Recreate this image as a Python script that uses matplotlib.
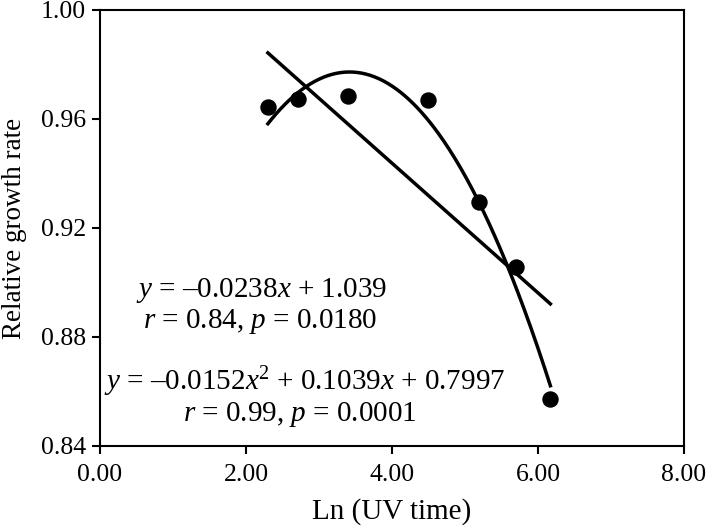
import numpy as np
import matplotlib
matplotlib.use("Agg")
import matplotlib.pyplot as plt

plt.rcParams['font.family'] = ['Liberation Serif', 'DejaVu Serif']
plt.rcParams['mathtext.fontset'] = 'custom'
plt.rcParams['mathtext.rm'] = 'Liberation Serif'
plt.rcParams['mathtext.it'] = 'Liberation Serif:italic'

# Data
ln_uv_time = [2.30, 2.71, 3.40, 4.50, 5.19, 5.70, 6.17]
growth_rate = [0.9643, 0.9673, 0.9683, 0.9670, 0.9294, 0.9058, 0.8571]

# Regression coefficients as printed on the chart
linear_coef = [-0.0238, 1.039]
quad_coef = [-0.0152, 0.1039, 0.7997]

x_ticks = [0.0, 2.0, 4.0, 6.0, 8.0]
y_ticks = [0.84, 0.88, 0.92, 0.96, 1.00]

fig = plt.figure(figsize=(7.09, 5.29), dpi=100)
ax = fig.add_axes([0.1410, 0.1569, 0.8237, 0.8242])

xs = np.linspace(min(ln_uv_time), max(ln_uv_time), 200)
ax.plot(xs, np.polyval(linear_coef, xs), color='black', lw=2.5)
ax.plot(xs, np.polyval(quad_coef, xs), color='black', lw=2.5)
ax.scatter(ln_uv_time, growth_rate, s=117, color='black', zorder=3)

ax.set_xlim(0, 8)
ax.set_ylim(0.84, 1.00)
ax.set_xticks(x_ticks)
ax.set_xticklabels([f"{v:.2f}" for v in x_ticks])
ax.set_yticks(y_ticks)
ax.set_yticklabels([f"{v:.2f}" for v in y_ticks])
ax.tick_params(direction='out', length=6, width=1.5, labelsize=18.5)
ax.tick_params(axis='x', pad=7)
ax.tick_params(axis='y', pad=4)
for s in ax.spines.values():
    s.set_linewidth(1.5)

ax.set_xlabel("Ln (UV time)", fontsize=21, labelpad=9)
ax.set_ylabel("Relative growth rate", fontsize=19.5, labelpad=10)

fs = 21
ax.text(2.22, 0.8947, r"$\it{y}$ = –0.0238$\it{x}$ + 1.039", ha='center', va='baseline', fontsize=fs)
ax.text(2.19, 0.8833, r"$\it{r}$ = 0.84, $\it{p}$ = 0.0180", ha='center', va='baseline', fontsize=fs)
ax.text(2.80, 0.8606, r"$\it{y}$ = –0.0152$\it{x}$$^2$ + 0.1039$\it{x}$ + 0.7997", ha='center', va='baseline', fontsize=fs)
ax.text(2.74, 0.8492, r"$\it{r}$ = 0.99, $\it{p}$ = 0.0001", ha='center', va='baseline', fontsize=fs)

fig.savefig("out.png", dpi=100)
